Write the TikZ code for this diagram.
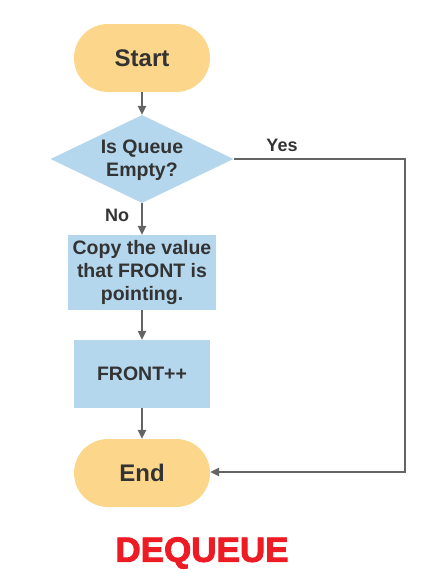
\documentclass[tikz,border=0pt]{standalone}
\usepackage{fontspec}
\setmainfont{Liberation Sans}
\usetikzlibrary{shapes.geometric,arrows.meta}
\definecolor{termfill}{RGB}{252,214,138}
\definecolor{procfill}{RGB}{180,215,238}
\definecolor{txtcol}{RGB}{51,51,51}
\definecolor{linecol}{RGB}{100,100,100}
\definecolor{redtitle}{RGB}{237,28,36}
\tikzset{
  terminal/.style={rectangle, rounded corners=34pt, fill=termfill, minimum width=136pt, minimum height=68pt, inner sep=0pt, text=txtcol, font=\fontsize{24}{28}\selectfont\bfseries},
  proc/.style={rectangle, fill=procfill, inner sep=0pt, text=txtcol, align=center, font=\fontsize{19.5}{23}\selectfont\bfseries},
  decision/.style={diamond, fill=procfill, minimum width=183pt, minimum height=88pt, inner sep=0pt},
  dtext/.style={text=txtcol, align=center, font=\fontsize{19.5}{23}\selectfont\bfseries},
  lbl/.style={text=txtcol, font=\fontsize{18}{22}\selectfont\bfseries},
  conn/.style={draw=linecol, line width=1.2pt, -{Triangle[width=8.5pt,length=9pt]}}
}
\begin{document}
\begin{tikzpicture}[x=1pt,y=-1pt]
\useasboundingbox (0,0) rectangle (433,573);
\node[terminal] (start) at (142,58) {Start};
\node[decision] (dec) at (142,159) {};
\node[dtext] (dectxt) at (142,160) {Is Queue\\Empty?};
\node[proc, minimum width=148pt, minimum height=75pt] (copy) at (142,272.5) {Copy the value\\that FRONT is\\pointing.};
\node[proc, minimum width=136pt, minimum height=68pt] (front) at (142,374) {FRONT++};
\node[terminal] (end) at (142,473) {End};
\coordinate (corner1) at (405,159);
\coordinate (corner2) at (405,472);
\node[lbl] (yes) at (282,145) {Yes};
\node[lbl] (no) at (117,215) {No};
\node[text=redtitle, font=\fontsize{35}{40}\selectfont\bfseries] (title) at (202,553) {\special{pdf:literal direct 2 Tr 0.9 w 0.929 0.11 0.141 RG}DEQUEUE\special{pdf:literal direct 0 Tr}};
\draw[conn] (start) -- (dec);
\draw[conn] (dec) -- (copy);
\draw[conn] (copy) -- (front);
\draw[conn] (front) -- (end);
\draw[conn] (dec.east) -- (corner1) -- (corner2) -- (end.east |- corner2);
\end{tikzpicture}
\end{document}
